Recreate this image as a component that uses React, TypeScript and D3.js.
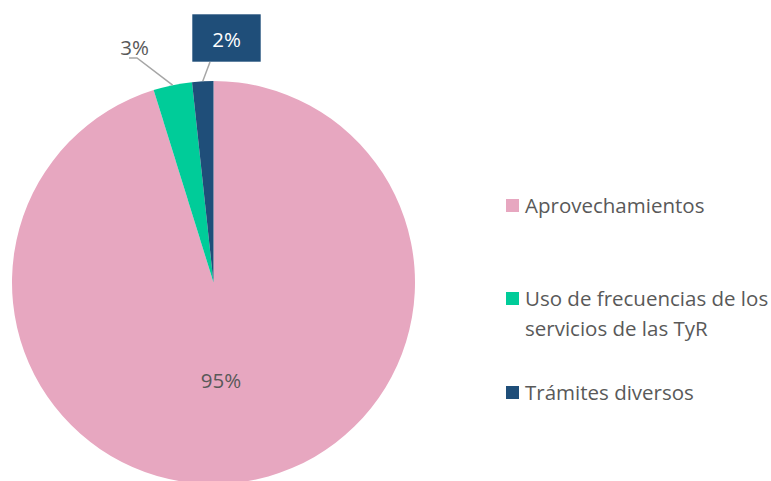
import React from "react";
import * as d3 from "d3";

const categories = ["Aprovechamientos", "Uso de frecuencias de los servicios de las TyR", "Trámites diversos"];
const legendLines = [["Aprovechamientos"], ["Uso de frecuencias de los", "servicios de las TyR"], ["Trámites diversos"]];
const values = [95.2, 3.1, 1.7];
const labels = ["95%", "3%", "2%"];
const colors = ["#E7A7C0", "#00CC99", "#1F4E79"];

const W = 771, H = 481;
const cx = 213.5, cy = 282.5, R = 201.5;
const FONT = "'Open Sans', 'Liberation Sans', sans-serif";
const TXT = "#595959";
const FS = 20.5;

export default function App() {
  const pie = d3.pie<number>().sort(null).startAngle(0).endAngle(2 * Math.PI);
  const arcs = pie(values);
  const arc = d3.arc<d3.PieArcDatum<number>>().innerRadius(0).outerRadius(R);
  const pt = (a: number, r: number) => [cx + r * Math.sin(a), cy - r * Math.cos(a)];

  const gMid = (arcs[1].startAngle + arcs[1].endAngle) / 2;
  const gP = pt(gMid, R);
  const bMid = (arcs[2].startAngle + arcs[2].endAngle) / 2;
  const bP = pt(bMid, R);

  const legendY = [206, 299, 393];

  return (
    <svg width={W} height={H} style={{ position: "absolute", left: 0, top: 0, background: "#fff" }}>
      <g>
        {arcs.map((d, i) => (
          <path key={i} d={arc(d) as string} transform={`translate(${cx},${cy})`} fill={colors[i]} />
        ))}
      </g>
      <text x={221} y={388} textAnchor="middle" fontFamily={FONT} fontSize={FS} fill={TXT}>{labels[0]}</text>
      <polyline points={`129,58 137,58 ${gP[0]},${gP[1]}`} fill="none" stroke="#A6A6A6" strokeWidth={1.5} />
      <text x={134.5} y={55} textAnchor="middle" fontFamily={FONT} fontSize={FS} fill={TXT}>{labels[1]}</text>
      <line x1={210} y1={62} x2={bP[0]} y2={bP[1]} stroke="#A6A6A6" strokeWidth={1.5} />
      <rect x={192.3} y={14.3} width={68.4} height={47.4} fill={colors[2]} />
      <text x={226.5} y={47} textAnchor="middle" fontFamily={FONT} fontSize={FS} fill="#fff">{labels[2]}</text>
      {legendLines.map((lines, i) => (
        <g key={i}>
          <rect x={506} y={legendY[i] - 7} width={13} height={13} fill={colors[i]} />
          {lines.map((l, j) => (
            <text key={j} x={525} y={legendY[i] + 7 + j * 30} fontFamily={FONT} fontSize={FS} fill={TXT}>{l}</text>
          ))}
        </g>
      ))}
    </svg>
  );
}
